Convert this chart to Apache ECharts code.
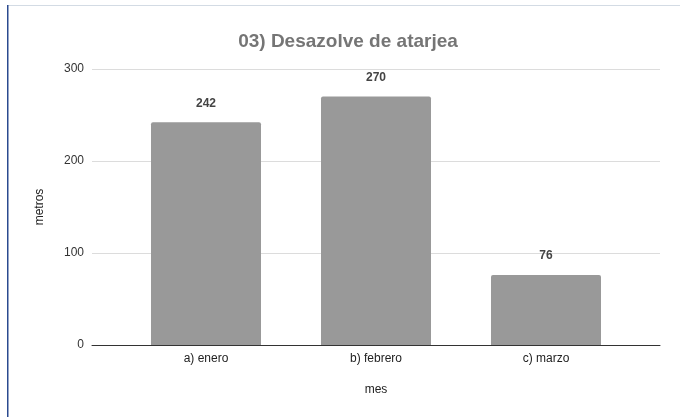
<!DOCTYPE html>
<html><head><meta charset="utf-8">
<script src="https://cdn.jsdelivr.net/npm/echarts@6/dist/echarts.min.js"></script>
<style>html,body{margin:0;padding:0;background:#fff}#c{width:680px;height:417px}</style>
</head><body><div id="c"></div>
<script>
const categories = ['a) enero', 'b) febrero', 'c) marzo'];
const values = [242, 270, 76];
const yTicks = [0, 100, 200, 300];

const font = 'Arial, Liberation Sans, sans-serif';
const yMin = yTicks[0], yMax = yTicks[yTicks.length - 1];
const chart = echarts.init(document.getElementById('c'), null, {renderer: 'canvas'});
chart.setOption({
  animation: false,
  backgroundColor: '#fff',
  title: {
    text: '03) Desazolve de atarjea',
    left: 343, top: 27, textAlign: 'center',
    textStyle: {fontFamily: font, fontSize: 19, fontWeight: 'bold', color: '#757575'}
  },
  graphic: [
    {type: 'rect', shape: {x: 7, y: 5, width: 673, height: 1}, style: {fill: '#d3dbe4'}},
    {type: 'rect', shape: {x: 7, y: 5, width: 1.5, height: 412}, style: {fill: '#2b4a8f'}}
  ],
  grid: [
    {left: 92, right: 20, top: 69, bottom: 72},
    {left: 121, right: 49, top: 69, bottom: 72}
  ],
  xAxis: [
    {
      gridIndex: 0, type: 'value', min: 0, max: 1,
      axisLabel: {show: false}, axisTick: {show: false}, splitLine: {show: false},
      axisLine: {show: true, lineStyle: {color: '#333', width: 1}},
      name: 'mes', nameLocation: 'middle', nameGap: 39,
      nameTextStyle: {fontFamily: font, fontSize: 12, color: '#222'}
    },
    {
      gridIndex: 1, type: 'category', data: categories,
      axisTick: {show: false}, axisLine: {show: false},
      axisLabel: {fontFamily: font, fontSize: 12, color: '#222', margin: 8}
    }
  ],
  yAxis: [
    {
      gridIndex: 0, type: 'value', min: yMin, max: yMax, interval: 100,
      name: 'metros', nameLocation: 'middle', nameGap: 46, nameRotate: 90,
      nameTextStyle: {fontFamily: font, fontSize: 12, color: '#222'},
      axisLine: {show: false}, axisTick: {show: false},
      axisLabel: {fontFamily: font, fontSize: 12, color: '#333', margin: 8},
      splitLine: {lineStyle: {color: '#dcdcdc', width: 1}}
    },
    {
      gridIndex: 1, type: 'value', min: yMin, max: yMax, interval: 100,
      axisLine: {show: false}, axisTick: {show: false},
      axisLabel: {show: false}, splitLine: {show: false}
    }
  ],
  series: [{
    type: 'bar', data: values, barWidth: 110, xAxisIndex: 1, yAxisIndex: 1, z: 3,
    itemStyle: {color: '#999999', borderRadius: [2, 2, 0, 0]},
    label: {show: true, position: 'top', distance: 13,
      fontFamily: font, fontSize: 12, fontWeight: 'bold', color: '#444'}
  }]
});
</script></body></html>
